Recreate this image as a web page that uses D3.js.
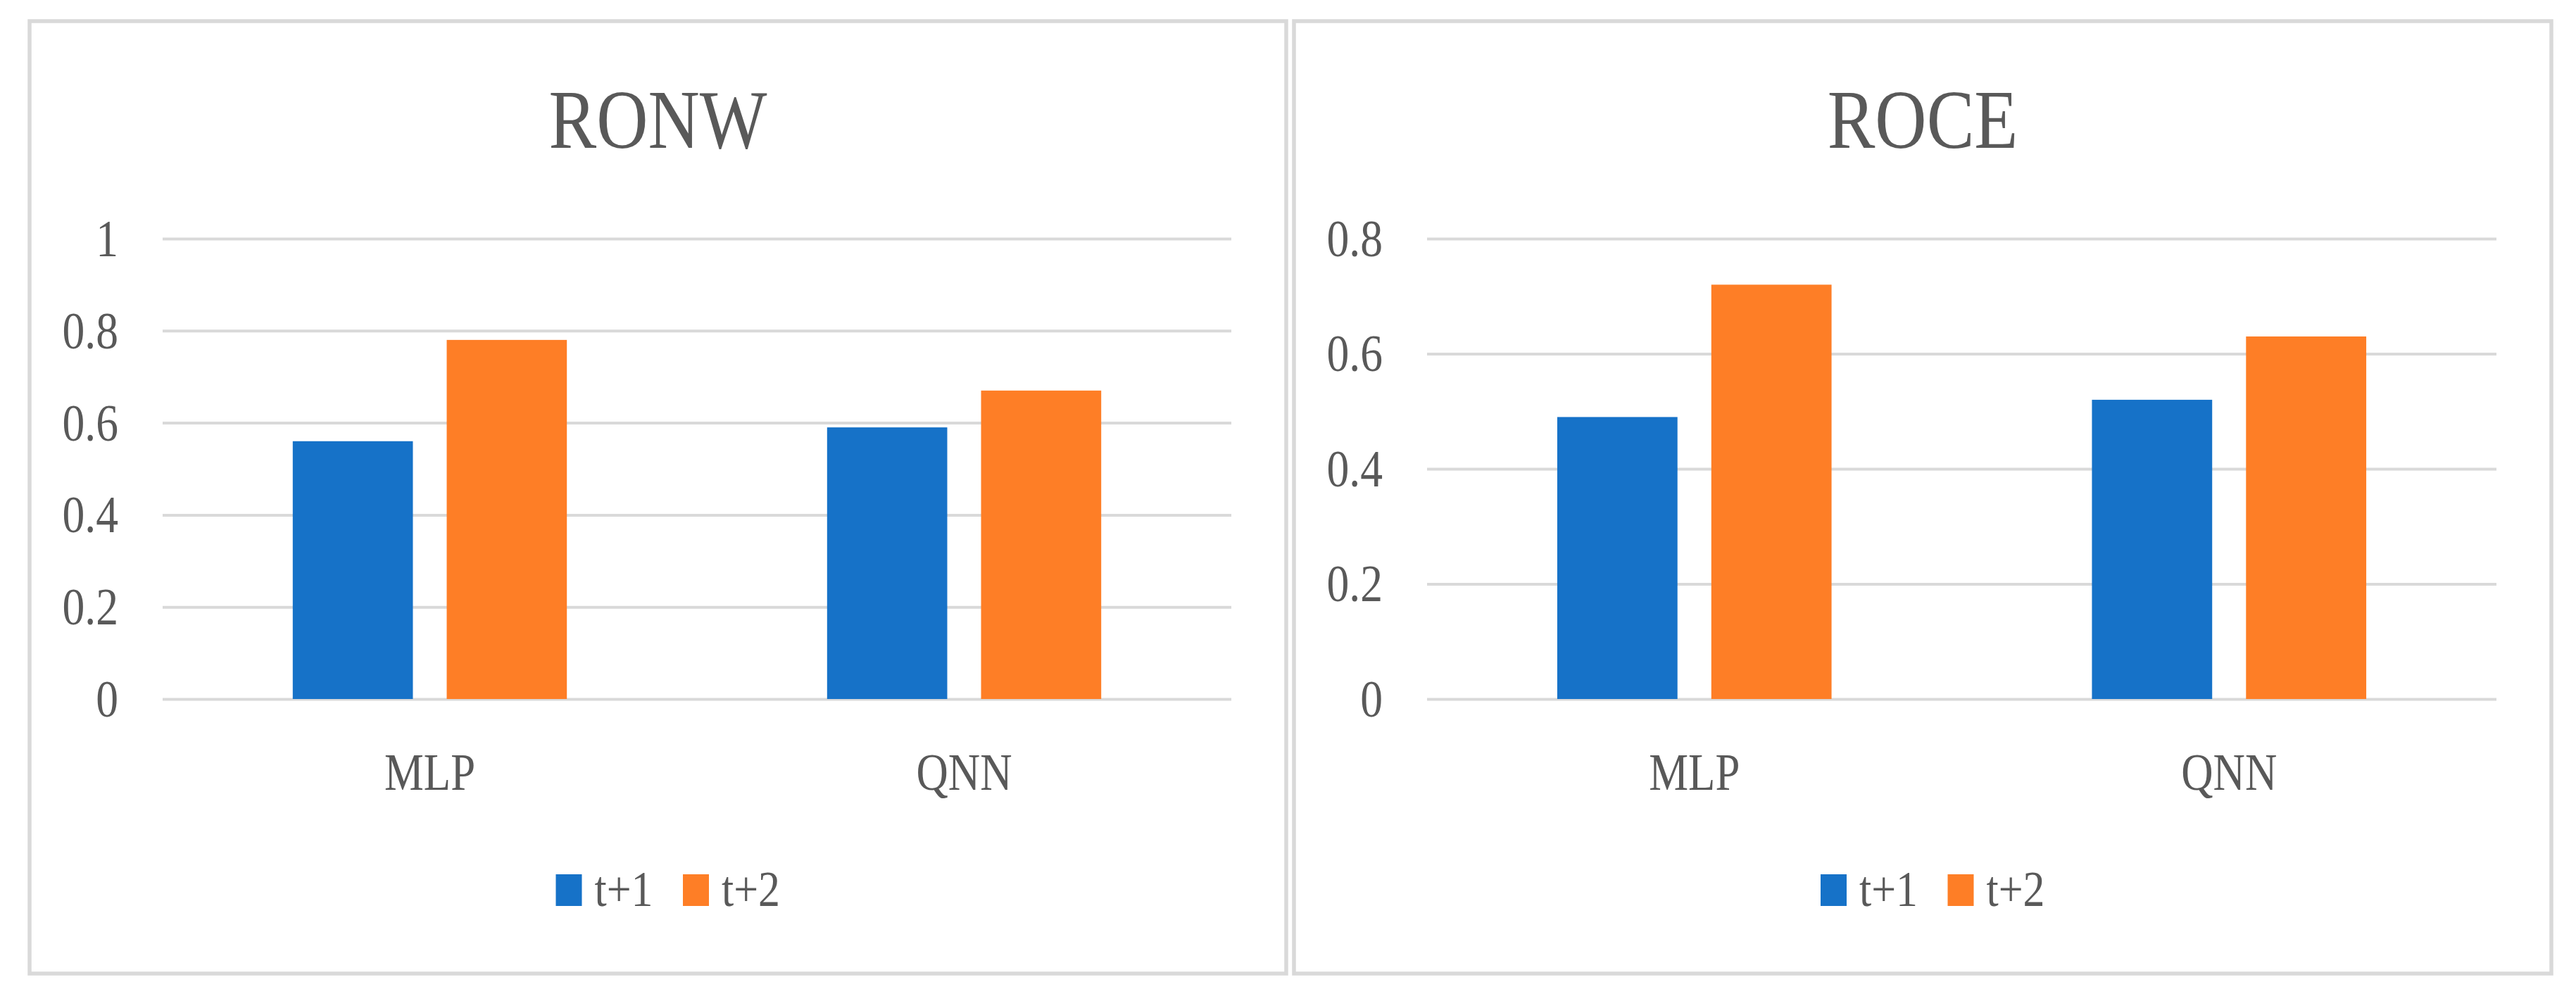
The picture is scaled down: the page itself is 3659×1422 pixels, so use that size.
<!DOCTYPE html>
<html><head><meta charset="utf-8">
<script src="https://cdn.jsdelivr.net/npm/d3@7"></script>
<style>html,body{margin:0;padding:0;background:#fff;} svg{display:block}</style>
</head><body>
<script>
// ---- data ----
const categories = ["MLP", "QNN"];
const seriesNames = ["t+1", "t+2"];
const ronwT1 = [0.56, 0.59];
const ronwT2 = [0.78, 0.67];
const roceT1 = [0.49, 0.52];
const roceT2 = [0.72, 0.63];
const ronwTicks = [0, 0.2, 0.4, 0.6, 0.8, 1];
const roceTicks = [0, 0.2, 0.4, 0.6, 0.8];
const ronwTitle = "RONW";
const roceTitle = "ROCE";
const seriesColors = ["#1672c8", "#fe7e26"];

// ---- layout ----
const W = 3659, H = 1422;
const FONT = "'Liberation Serif', 'Times New Roman', serif";
const TEXT = "#595959";
const GRID = "#d9d9d9";
const SX = 0.86; // horizontal squeeze of the narrow serif face

const svg = d3.select("body").append("svg").attr("width", W).attr("height", H);
svg.append("rect").attr("width", W).attr("height", H).attr("fill", "#fff");

const panels = [
  {title: ronwTitle, t1: ronwT1, t2: ronwT2, ticks: ronwTicks, max: 1, x0: 42, x1: 1827},
  {title: roceTitle, t1: roceT1, t2: roceT2, ticks: roceTicks, max: 0.8, x0: 1838, x1: 3624}
];
const boxTop = 30, boxBottom = 1383;
const plotTop = 339, plotBottom = 993;

panels.forEach(p => {
  const g = svg.append("g");
  // frame
  g.append("rect")
    .attr("x", p.x0).attr("y", boxTop)
    .attr("width", p.x1 - p.x0).attr("height", boxBottom - boxTop)
    .attr("fill", "#fff").attr("stroke", GRID).attr("stroke-width", 5.5);

  const cx = (p.x0 + p.x1) / 2;
  const left = p.x0 + 189, right = p.x1 - 78;

  // title
  g.append("text")
    .attr("transform", `translate(${cx},210) scale(${SX},1)`)
    .attr("text-anchor", "middle")
    .attr("font-family", FONT).attr("font-size", 118)
    .attr("fill", TEXT).text(p.title);

  const y = d3.scaleLinear().domain([0, p.max]).range([plotBottom, plotTop]);
  const x0 = d3.scaleBand().domain(categories).range([left, right])
    .paddingInner(0.487).paddingOuter(0.2435);
  const x1 = d3.scaleBand().domain(seriesNames).range([0, x0.bandwidth()])
    .paddingInner(0.2197).paddingOuter(0);

  // gridlines + tick labels
  const axis = d3.axisLeft(y).tickValues(p.ticks)
    .tickFormat(d => d3.format("")(+d.toFixed(1)))
    .tickSize(-(right - left)).tickPadding(63);
  const ag = g.append("g").attr("transform", `translate(${left},0)`).call(axis);
  ag.select(".domain").remove();
  ag.selectAll(".tick line").attr("stroke", GRID).attr("stroke-width", 4);
  ag.selectAll(".tick text")
    .attr("x", -63 / SX).attr("dy", "0.33em")
    .attr("transform", `scale(${SX},1)`)
    .attr("font-family", FONT).attr("font-size", 74)
    .attr("fill", TEXT).attr("text-anchor", "end");

  // bars
  const rows = categories.map((c, i) => ({cat: c, vals: [p.t1[i], p.t2[i]]}));
  const cg = g.selectAll(".cat").data(rows).enter().append("g")
    .attr("transform", d => `translate(${x0(d.cat)},0)`);
  cg.selectAll("rect").data(d => d.vals.map((v, j) => ({s: seriesNames[j], v, j})))
    .enter().append("rect")
    .attr("x", d => x1(d.s)).attr("width", x1.bandwidth())
    .attr("y", d => y(d.v)).attr("height", d => y(0) - y(d.v))
    .attr("fill", d => seriesColors[d.j]);

  // category labels
  g.selectAll(".xl").data(categories).enter().append("text")
    .attr("transform", d => `translate(${x0(d) + x0.bandwidth() / 2},1122) scale(${SX},1)`)
    .attr("text-anchor", "middle")
    .attr("font-family", FONT).attr("font-size", 73)
    .attr("fill", TEXT).text(d => d);

  // legend
  const legendOffsets = [-145, 35.5];
  seriesNames.forEach((s, j) => {
    const lx = cx + legendOffsets[j];
    g.append("rect").attr("x", lx).attr("y", 1242).attr("width", 37).attr("height", 45)
      .attr("fill", seriesColors[j]);
    g.append("text")
      .attr("transform", `translate(${lx + 55},1287) scale(${SX},1)`)
      .attr("font-family", FONT).attr("font-size", 72)
      .attr("fill", TEXT).text(s);
  });
});
</script>
</body></html>
